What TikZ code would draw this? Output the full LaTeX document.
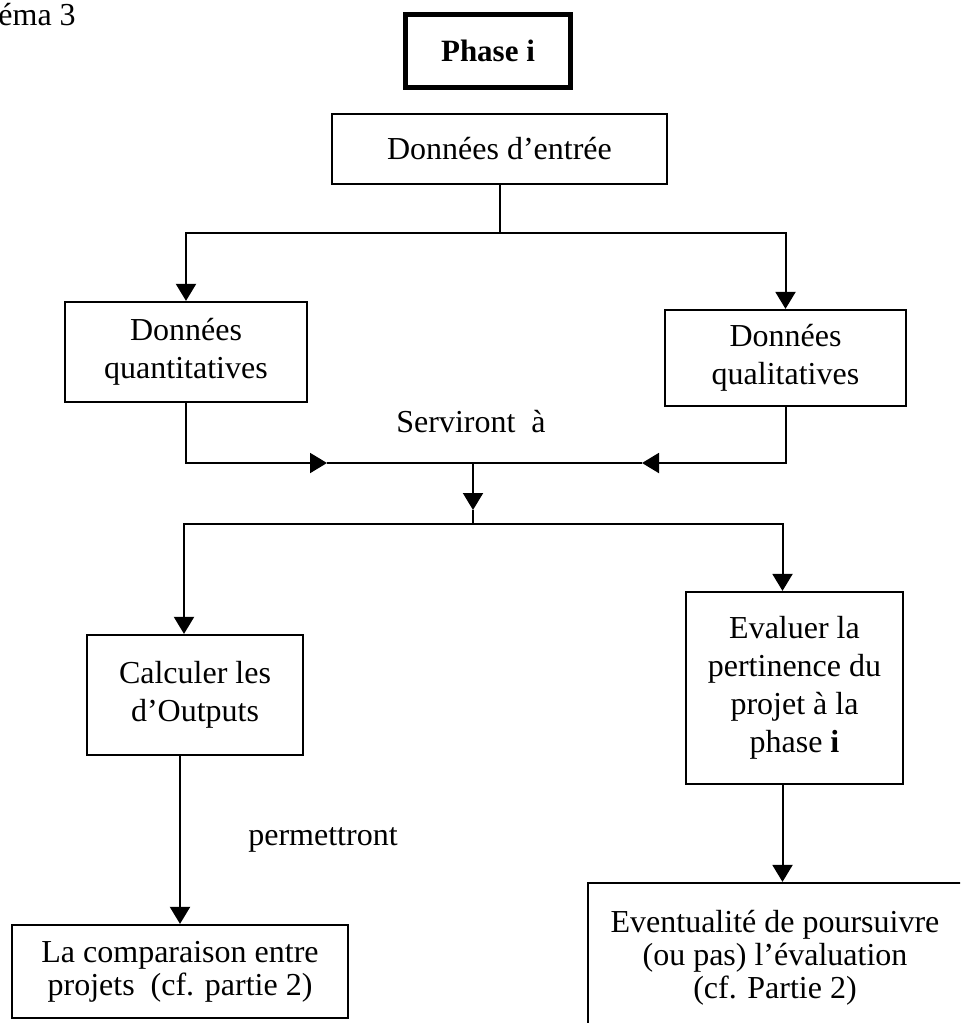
\documentclass[tikz,border=0pt]{standalone}
\usepackage{fontspec}
\setmainfont{Liberation Serif}
\usetikzlibrary{arrows.meta}
\begin{document}
\begin{tikzpicture}[x=0.5pt, y=-0.5pt,
  box/.style={draw, line width=1.1pt, align=center, inner sep=0pt,
    font=\fontsize{16}{19}\selectfont},
  lowbox/.style={box, font=\fontsize{16}{16.5}\selectfont},
  link/.style={line width=1pt},
  arr/.style={link, -{Triangle[width=10pt,length=8.5pt]}},
  lbl/.style={font=\fontsize{16}{19}\selectfont, inner sep=0pt, anchor=base}]
\useasboundingbox (0,0) rectangle (960,1023);
\clip (0,0) rectangle (960,1023);

% heading fragment
\node[lbl, anchor=base west] (title) at (-2,25) {éma 3};

% boxes
\node[draw, line width=2.5pt, minimum width=82.5pt, minimum height=36.5pt,
  font=\fontsize{15.5}{18}\selectfont\bfseries] (phase) at (488,51) {Phase i};
\node[box, minimum width=167.5pt, minimum height=35pt] (entree) at (499.5,149) {Données d’entrée};
\node[box, minimum width=121pt, minimum height=50pt] (quant) at (186,352) {Données\\quantitatives};
\node[box, minimum width=120.5pt, minimum height=48pt] (qual) at (785.5,358) {Données\\qualitatives};
\node[box, minimum width=108pt, minimum height=60pt] (calc) at (195,695) {Calculer les\\d’Outputs};
\node[box, minimum width=108.5pt, minimum height=96pt] (eval) at (794.5,688)
  {Evaluer la\\pertinence du\\projet à la\\phase \textbf{i}};
\node[lowbox, minimum width=168pt, minimum height=46.5pt] (comp) at (180,971.5)
  {La comparaison entre\\projets~~(cf. partie 2)};
\node[lowbox, minimum width=187pt, minimum height=75pt] (event) at (775,958)
  {Eventualité de poursuivre\\(ou pas) l’évaluation\\(cf. Partie 2)};

% labels
\node[lbl] (serv) at (471,432) {Serviront~~à};
\node[lbl] (perm) at (323,845) {permettront};

% junction points
\coordinate (split1) at (entree.south |- 0,233);
\coordinate (inL) at (327,463);
\coordinate (inR) at (642,463);
\coordinate (hub) at (473,463);
\coordinate (down) at (473,510);
\coordinate (split2) at (473,524);

% connectors
\draw[link] (entree.south) -- (split1);
\draw[arr] (split1) -| (quant.north);
\draw[arr] (split1) -| (qual.north);
\draw[arr] (quant.south) |- (inL);
\draw[link] (inL) -- (hub);
\draw[arr] (qual.south) |- (inR);
\draw[link] (inR) -- (hub);
\draw[arr] (hub) -- (down);
\draw[link] (down) -- (split2);
\draw[arr] (split2) -| ([xshift=-5.5pt]calc.north);
\draw[arr] (split2) -| ([xshift=-6pt]eval.north);
\draw[arr] (comp.north |- calc.south) -- (comp.north);
\draw[arr] ([xshift=-6pt]eval.south) -- ([xshift=-6pt]eval.south |- event.north);
\end{tikzpicture}
\end{document}
